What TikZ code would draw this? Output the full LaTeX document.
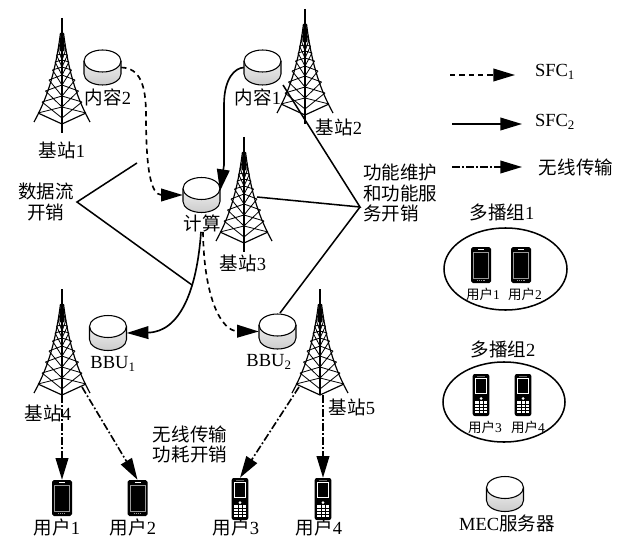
\documentclass[tikz,border=0pt]{standalone}
\usepackage{fontspec}
\setmainfont{Liberation Serif}
\newfontfamily\cjk{Noto Sans CJK SC}
\usetikzlibrary{arrows.meta,shapes.geometric}
\newcommand{\zh}[1]{{\cjk #1}}
\tikzset{
  flow/.style={line width=1.4pt,-{Triangle[length=0.65cm,width=0.38cm]}},
  sfcone/.style={flow,dash pattern=on 4.5pt off 3.5pt},
  sfctwo/.style={flow},
  wireless/.style={flow,dash pattern=on 6.5pt off 2pt on 1.5pt off 2pt},
  cost/.style={line width=1.3pt},
  tag/.style={inner sep=0pt,font=\fontsize{15.8pt}{17.8pt}\selectfont},
  smalltag/.style={inner sep=0pt,font=\fontsize{11.5pt}{13pt}\selectfont},
  pics/smartphone/.style={code={
    \fill[rounded corners=1.5pt] (-10,-18) rectangle (10,18);
    \draw[black!40,line width=0.6pt] (-7.5,-13) rectangle (7.5,13);
    \draw[white,line width=0.5pt] (-3,-15.5) -- (3,-15.5);
    \draw[black!40,line width=0.9pt,dash pattern=on 1pt off 0.8pt] (-4,15.5) -- (4,15.5);
    \node[inner sep=0pt,minimum width=0.6cm,minimum height=1.08cm] (-body) {};
  }},
  pics/featurephone/.style={code={
    \fill[rounded corners=1.8pt] (-8.3,-21) rectangle (8.3,21);
    \draw[white,line width=0.7pt] (-5.3,-17) rectangle (5.3,-2);
    \fill[white] (0,3.5) circle (0.045cm);
    \fill[white] (-5.8,6) rectangle (5.8,18);
    \foreach \yk in {9,12,15}{
      \draw[black,line width=0.25pt] (-5.8,\yk) -- (5.8,\yk);
    }
    \draw[black,line width=0.25pt] (-2,6) -- (-2,18) (2,6) -- (2,18);
    \draw[black!60,line width=0.5pt] (-4,-19.2) -- (4,-19.2);
    \node[inner sep=0pt,minimum width=0.5cm,minimum height=1.26cm] (-body) {};
  }},
  pics/server/.style={code={
    \shade[line width=0.9pt,top color=white,middle color=white,bottom color=black!20]
      (-18.5,-6.5) arc (180:0:0.555cm and 0.33cm) -- (18.5,6.5) arc (0:-180:0.555cm and 0.33cm) -- cycle;
    \fill[white] (0,-6.5) ellipse (0.555cm and 0.33cm);
    \draw[line width=0.9pt] (-18.5,-6.5) arc (180:0:0.555cm and 0.33cm) -- (18.5,6.5) arc (0:-180:0.555cm and 0.33cm) -- cycle;
    \draw[line width=0.9pt] (-18.5,-6.5) arc (180:360:0.555cm and 0.33cm);
    \node[inner sep=0pt,minimum width=1.11cm,minimum height=1.05cm] (-body) {};
  }},
  pics/tower/.style={code={
    \draw[line width=0.9pt] (0,0) -- (0,#1);
    \fill (-1.5,15) -- (1.5,15) -- (2.5,33) -- (-2.5,33) -- cycle;
    \draw[line width=1pt] (-1.5,15) .. controls (-7,58) and (-16,82) .. (-28,104);
    \draw[line width=1pt] (1.5,15) .. controls (7,58) and (16,82) .. (28,104);
    \foreach \ya/\wa/\yb/\wb in {26/3/31/4,31/4/37/5.5,37/5.5/44/7,44/7/52/9.5,52/9.5/62/13,62/13/73/16.5,73/16.5/84/20,84/20/95/24}{
      \draw[line width=0.7pt] (-\wa,\ya) -- (0,\yb+5) (-\wb,\yb) -- (0,\ya+5) (\wa,\ya) -- (0,\yb+5) (\wb,\yb) -- (0,\ya+5);
    }
    \draw[line width=1pt] (-24,95) -- (0,106) -- (24,95);
    \coordinate (-foot) at (0,106);
    \coordinate (-mr) at (20,98);
    \coordinate (-ml) at (-21,98);
  }}
}
\begin{document}
\begin{tikzpicture}[x=0.03cm,y=-0.03cm]
\useasboundingbox (0,0) rectangle (621,538);
% towers
\pic (T1) at (62,18) {tower=115};
\pic (T2) at (305,9) {tower=115};
\pic (T3) at (244,137) {tower=115};
\pic (T4) at (62,289) {tower=106};
\pic (T5) at (320,289) {tower=106};
% servers
\pic (C2) at (102.5,67.5) {server};
\pic (C1) at (262.5,67.5) {server};
\pic (CP) at (201.5,195) {server};
\pic (B1) at (108,333) {server};
\pic (B2) at (277.5,331.5) {server};
\pic (MEC) at (505,494) {server};
% users
\pic (U1) at (62,498) {smartphone};
\pic (U2) at (137.5,498) {smartphone};
\pic (U3) at (240,499) {featurephone};
\pic (U4) at (323,499) {featurephone};
% groups
\node[draw,ellipse,line width=1.3pt,minimum width=3.69cm,minimum height=2.46cm,inner sep=0pt] (G1) at (505.5,269) {};
\node[draw,ellipse,line width=1.3pt,minimum width=3.66cm,minimum height=2.4cm,inner sep=0pt] (G2) at (504,402) {};
\pic (P1) at (481,265) {smartphone};
\pic (P2) at (521,265) {smartphone};
\pic (P3) at (481,395) {featurephone};
\pic (P4) at (523,395) {featurephone};
% labels
\node[tag] (LT1) at (62,150) {\zh{基站}1};
\node[tag] (LC2) at (108,97) {\zh{内容}2};
\node[tag] (LC1) at (258,97) {\zh{内容}1};
\node[tag] (LT2) at (339,127) {\zh{基站}2};
\node[tag] (LT3) at (243,263) {\zh{基站}3};
\node[tag] (LCP) at (202,223) {\zh{计算}};
\node[tag,align=center] (LD) at (46,202) {\zh{数据流}\\\zh{开销}};
\node[tag,align=left,anchor=west] (LF) at (363,193) {\zh{功能维护}\\\zh{和功能服}\\\zh{务开销}};
\node[tag] (LG1) at (502,212) {\zh{多播组}1};
\node[tag] (LG2) at (503,349) {\zh{多播组}2};
\node[smalltag] (LP1) at (483,294) {\zh{用户}1};
\node[smalltag] (LP2) at (525,294) {\zh{用户}2};
\node[smalltag] (LP3) at (485,427) {\zh{用户}3};
\node[smalltag] (LP4) at (528,427) {\zh{用户}4};
\node[tag] (LM) at (507,523) {MEC\zh{服务器}};
\node[tag] (LB1) at (113,364) {BBU\textsubscript{1}};
\node[tag] (LB2) at (269,362) {BBU\textsubscript{2}};
\node[tag] (LT4) at (48,413) {\zh{基站}4};
\node[tag] (LT5) at (352,407) {\zh{基站}5};
\node[tag,align=center] (LW) at (190,444.5) {\zh{无线传输}\\\zh{功耗开销}};
\node[tag] (LU1) at (57,527) {\zh{用户}1};
\node[tag] (LU2) at (133,527) {\zh{用户}2};
\node[tag] (LU3) at (236,527.5) {\zh{用户}3};
\node[tag] (LU4) at (319,527.5) {\zh{用户}4};
% legend
\coordinate (K1a) at (450,75);
\coordinate (K1b) at (515,75);
\coordinate (K2a) at (452,124);
\coordinate (K2b) at (522,124);
\coordinate (K3a) at (452,167);
\coordinate (K3b) at (522,167);
\node[tag] (K1) at (555,72) {SFC\textsubscript{1}};
\node[tag] (K2) at (555,122) {SFC\textsubscript{2}};
\node[tag] (K3) at (576,167) {\zh{无线传输}};
\draw[sfcone] (K1a) -- (K1b);
\draw[sfctwo] (K2a) -- (K2b);
\draw[wireless] (K3a) -- (K3b);
% flows
\draw[sfcone] (C2-body.east) .. controls (140,68) and (146,85) .. (146,115) .. controls (146,165) and (150,195) .. (CP-body.west);
\draw[sfctwo] (C1-body.west) .. controls (235,68) and (224,78) .. (224,105) -- (224,165) -- (220,191);
\draw[sfctwo] (LCP.south) ++(-1,0) .. controls (197,290) and (180,332) .. (B1-body.east);
\draw[sfcone] (LCP.south) ++(1,0) .. controls (204,300) and (222,331) .. (B2-body.west);
\draw[wireless] (T4-foot) -- (U1-body.north);
\draw[wireless] (T4-mr) -- (U2-body.north);
\draw[wireless] (T5-ml) -- (U3-body.north);
\draw[wireless] (U4-body.north |- T5-foot) -- (U4-body.north);
% costs
\coordinate (DA) at (77,202);
\coordinate (DB) at (137,163);
\coordinate (DC) at (192,285);
\draw[cost] (DB) -- (DA) -- (DC);
\coordinate (FA) at (360,207);
\coordinate (FB) at (283,85);
\coordinate (FC) at (257,197);
\coordinate (FD) at (280,313);
\draw[cost] (FB) -- (FA) -- (FC);
\draw[cost] (FA) -- (FD);
\end{tikzpicture}
\end{document}
